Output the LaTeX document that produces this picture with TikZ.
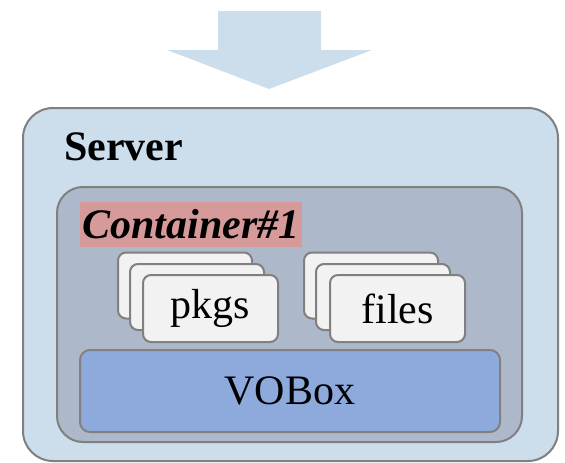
\documentclass[tikz,border=0pt]{standalone}
\usepackage{fontspec}
\setmainfont{Liberation Serif}
\definecolor{srvfill}{HTML}{CCDDEB}
\definecolor{contfill}{HTML}{ADB9CA}
\definecolor{cardfill}{HTML}{F2F2F2}
\definecolor{vofill}{HTML}{8EAADC}
\definecolor{lblfill}{HTML}{D79A9A}
\definecolor{edge}{HTML}{808080}
\tikzset{
  box/.style={draw=edge, line width=2pt, rectangle, inner sep=0pt, font=\fontsize{42}{50}\selectfont},
  card/.style={box, fill=cardfill, rounded corners=8pt, minimum width=134pt, minimum height=66pt},
}
\begin{document}
\begin{tikzpicture}[x=1pt,y=-1pt]
\useasboundingbox (0,0) rectangle (565,463);
% arrow
\fill[srvfill] (218,11) -- (321,11) -- (321,50) -- (372,50) -- (269,89) -- (167,50) -- (218,50) -- cycle;
\node[box, fill=srvfill, rounded corners=30pt, minimum width=535pt, minimum height=353pt] (server) at (290.5,284.5) {};
\node[anchor=base west, inner sep=0pt, font=\fontsize{42}{50}\selectfont\bfseries] (serverlbl) at (64,160) {Server};
\node[box, fill=contfill, rounded corners=26pt, minimum width=465pt, minimum height=255pt] (cont) at (289.5,314.5) {};
\node[fill=lblfill, inner sep=0pt, minimum width=222pt, minimum height=45pt, font=\fontsize{42}{50}\selectfont\bfseries\itshape] (contlbl) at (191,224.5) {Container\#1};
\node[card] (p3) at (185,285.5) {};
\node[card] (p2) at (197,297) {};
\node[card, minimum width=135pt, minimum height=67pt] (p1) at (210.5,308.5) {pkgs};
\node[card] (f3) at (371,285.5) {};
\node[card] (f2) at (383,297) {};
\node[card, minimum width=135pt, minimum height=67pt] (f1) at (397.5,308.5) {files};
\node[box, fill=vofill, rounded corners=10pt, minimum width=420pt, minimum height=82pt] (vobox) at (290,391) {VOBox};
\end{tikzpicture}
\end{document}
